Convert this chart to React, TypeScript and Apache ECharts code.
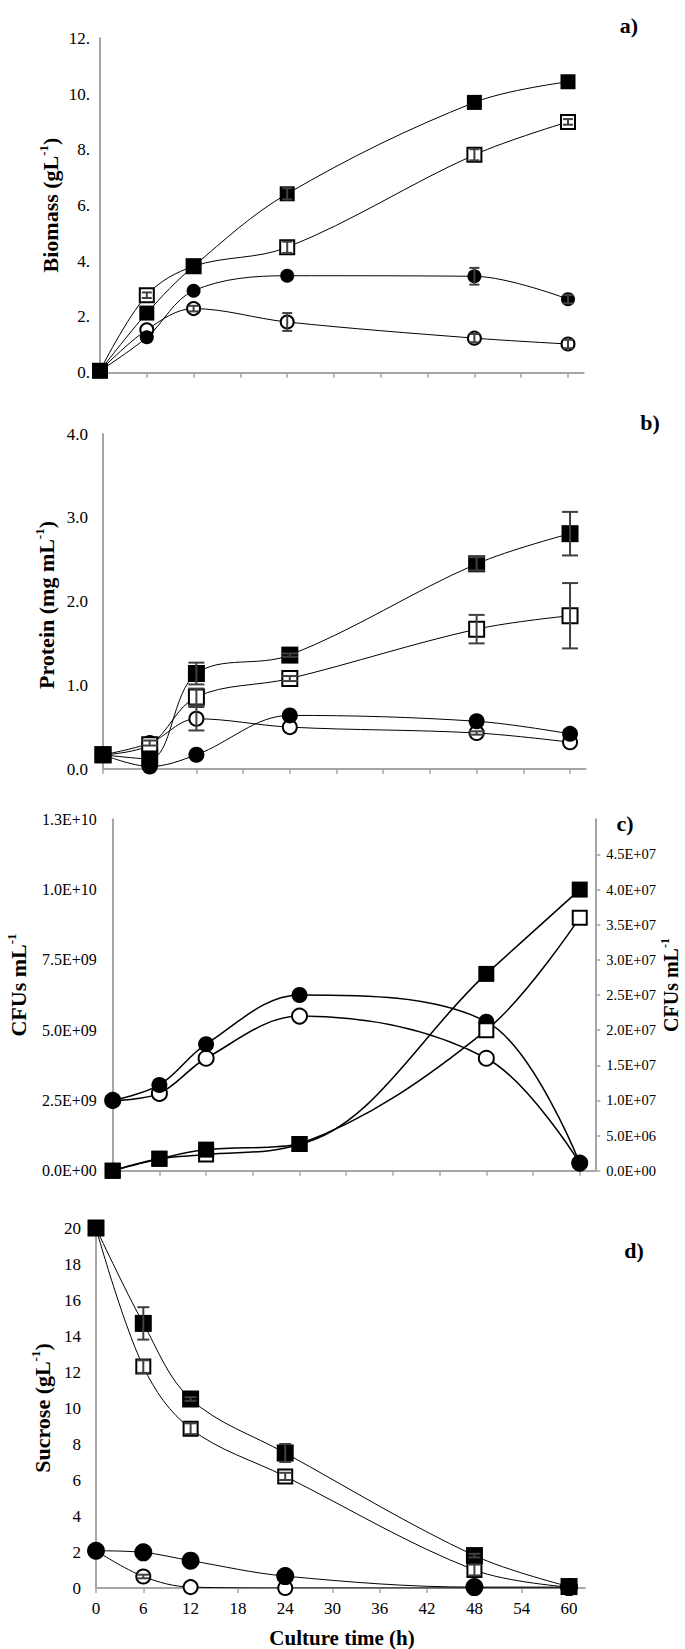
import React, { useEffect, useRef } from "react";
import * as echarts from "echarts";

// ---------- data ----------
const hours = [0, 6, 12, 24, 48, 60];
const tickHours = [0, 6, 12, 18, 24, 30, 36, 42, 48, 54, 60];

// a) Biomass (g/L)
const biomassFilledSq = [0.07, 2.14, 3.82, 6.42, 9.7, 10.44];
const biomassOpenSq = [0.07, 2.78, 3.82, 4.5, 7.82, 9.0];
const biomassFilledCi = [0.07, 1.27, 2.94, 3.48, 3.46, 2.64];
const biomassOpenCi = [0.07, 1.54, 2.3, 1.82, 1.24, 1.03];
const biomassFilledSqErr = [0, 0, 0, 0.2, 0, 0];
const biomassOpenSqErr = [0, 0.1, 0, 0.2, 0.2, 0.1];
const biomassFilledCiErr = [0, 0, 0, 0, 0.3, 0.15];
const biomassOpenCiErr = [0, 0, 0.1, 0.32, 0.15, 0.15];

// b) Protein (mg/mL)
const proteinFilledSq = [0.17, 0.12, 1.14, 1.36, 2.45, 2.81];
const proteinOpenSq = [0.17, 0.29, 0.86, 1.08, 1.67, 1.83];
const proteinFilledCi = [0.17, 0.03, 0.17, 0.64, 0.57, 0.42];
const proteinOpenCi = [0.17, 0.31, 0.6, 0.5, 0.43, 0.32];
const proteinFilledSqErr = [0, 0, 0.13, 0.02, 0.08, 0.26];
const proteinOpenSqErr = [0, 0, 0.1, 0.03, 0.17, 0.39];
const proteinFilledCiErr = [0, 0, 0, 0, 0, 0];
const proteinOpenCiErr = [0, 0.03, 0.14, 0, 0.02, 0];

// c) CFUs/mL  (circles: left axis, squares: right axis)
const cfuFilledCi = [2.5e9, 3.05e9, 4.5e9, 6.25e9, 5.3e9, 0.27e9];
const cfuOpenCi = [2.5e9, 2.75e9, 4.0e9, 5.5e9, 4.0e9, 0.27e9];
const cfuFilledSq = [0, 1.7e6, 3.0e6, 3.8e6, 2.8e7, 4.0e7];
const cfuOpenSq = [0, 1.7e6, 2.3e6, 3.8e6, 2.0e7, 3.6e7];

// d) Sucrose (g/L)
const sucroseFilledSq = [20, 14.7, 10.5, 7.5, 1.8, 0.08];
const sucroseOpenSq = [20, 12.3, 8.85, 6.2, 1.0, 0.05];
const sucroseFilledCi = [2.07, 1.98, 1.52, 0.66, 0.05, 0.05];
const sucroseOpenCi = [2.07, 0.64, 0.05, 0.0, 0.0, 0.0];
const sucroseFilledSqErr = [0, 0.9, 0.1, 0.5, 0.1, 0];
const sucroseOpenSqErr = [0, 0.35, 0.3, 0.2, 0.3, 0];
const sucroseFilledCiErr = [0, 0, 0, 0, 0, 0];
const sucroseOpenCiErr = [0, 0.1, 0, 0, 0, 0];

// ---------- helpers ----------
const FONT = '"Liberation Serif", "Times New Roman", serif';
const AXIS_GRAY = "#a6a6a6";

function expFmt(v: number) {
  const s = Number(v).toExponential(1);
  const [m, e] = s.split("e");
  const sign = e[0] === "-" ? "-" : "+";
  const digits = e.replace(/^[+-]/, "").padStart(2, "0");
  return m + "E" + sign + digits;
}

const pts = (ys: number[]) => hours.map((h, i) => [h, ys[i]]);

type Kind = "fsq" | "osq" | "fci" | "oci";

function lineSeries(
  ys: number[],
  kind: Kind,
  xi: number,
  yi: number,
  size: number,
  lw: number
) {
  const filled = kind === "fsq" || kind === "fci";
  const sym = kind === "fsq" || kind === "osq" ? "rect" : "circle";
  return {
    type: "line",
    xAxisIndex: xi,
    yAxisIndex: yi,
    data: pts(ys),
    smooth: 0.35,
    symbol: sym,
    symbolSize: size,
    showAllSymbol: true,
    silent: true,
    lineStyle: { color: "#000", width: lw },
    itemStyle: {
      color: filled ? "#000" : "#fff",
      borderColor: "#000",
      borderWidth: filled ? 0 : 2,
    },
    emphasis: { disabled: true },
    z: 3,
  };
}

function errSeries(
  ys: number[][],
  errs: number[][],
  xi: number,
  yi: number,
  cap: number
) {
  const data: number[][] = [];
  ys.forEach((arr, k) => {
    hours.forEach((h, i) => {
      if (errs[k][i] > 0) data.push([h, arr[i], errs[k][i]]);
    });
  });
  return {
    type: "custom",
    xAxisIndex: xi,
    yAxisIndex: yi,
    silent: true,
    z: 10,
    encode: { x: 0, y: 1 },
    data,
    renderItem: (params: any, api: any) => {
      const x = api.value(0);
      const y = api.value(1);
      const e = api.value(2);
      const t = api.coord([x, y + e]);
      const b = api.coord([x, y - e]);
      const st = { stroke: "#404040", lineWidth: 2 };
      return {
        type: "group",
        children: [
          { type: "line", shape: { x1: t[0], y1: t[1], x2: b[0], y2: b[1] }, style: st },
          { type: "line", shape: { x1: t[0] - cap, y1: t[1], x2: t[0] + cap, y2: t[1] }, style: st },
          { type: "line", shape: { x1: b[0] - cap, y1: b[1], x2: b[0] + cap, y2: b[1] }, style: st },
        ],
      };
    },
  };
}

function xAxisCfg(gi: number, showLabels: boolean) {
  return {
    type: "value",
    gridIndex: gi,
    min: 0,
    max: 62,
    interval: 6,
    axisLine: { show: true, onZero: false, lineStyle: { color: AXIS_GRAY, width: 2 } },
    axisTick: {
      show: true,
      length: 5,
      customValues: tickHours,
      lineStyle: { color: AXIS_GRAY, width: 1.5 },
    },
    axisLabel: {
      show: showLabels,
      customValues: tickHours,
      fontFamily: FONT,
      fontSize: 17,
      color: "#000",
      margin: 12,
    },
    splitLine: { show: false },
  };
}

function yAxisCfg(
  gi: number,
  max: number,
  interval: number,
  fmt: (v: number) => string,
  margin: number,
  fontSize: number
) {
  return {
    type: "value",
    gridIndex: gi,
    min: 0,
    max,
    interval,
    axisLine: { show: true, onZero: false, lineStyle: { color: AXIS_GRAY, width: 2 } },
    axisTick: { show: false },
    axisLabel: { formatter: fmt, fontFamily: FONT, fontSize, color: "#000", margin },
    splitLine: { show: false },
  };
}

function vName(main: string, tail: string, x: number, y: number, size: number) {
  return {
    type: "text",
    x,
    y,
    rotation: Math.PI / 2,
    silent: true,
    style: {
      text: `{n|${main}}{s|-1}{n|${tail}}`,
      align: "center",
      verticalAlign: "middle",
      fill: "#000",
      rich: {
        n: { fontSize: size, fontWeight: "bold", fontFamily: FONT, fill: "#000", lineHeight: size * 1.2 },
        s: {
          fontSize: Math.round(size * 0.6),
          fontWeight: "bold",
          fontFamily: FONT,
          fill: "#000",
          verticalAlign: "top",
          lineHeight: size * 1.2,
        },
      },
    },
  };
}

function panelLabel(t: string, x: number, y: number) {
  return {
    type: "text",
    x,
    y,
    silent: true,
    style: {
      text: t,
      align: "center",
      verticalAlign: "middle",
      fontFamily: FONT,
      fontWeight: "bold",
      fontSize: 22,
      fill: "#000",
    },
  };
}

export default function App() {
  const ref = useRef<HTMLDivElement>(null);

  useEffect(() => {
    if (!ref.current) return;
    const chart = echarts.init(ref.current, null, { renderer: "svg" });

    const option: any = {
      animation: false,
      backgroundColor: "#fff",
      grid: [
        { left: 100, top: 38.3, width: 483.6, height: 334.4 },
        { left: 103, top: 434, width: 482.6, height: 335 },
        { left: 112.7, top: 819.3, width: 482.6, height: 351.4 },
        { left: 96, top: 1228, width: 488.8, height: 360 },
      ],
      xAxis: [xAxisCfg(0, false), xAxisCfg(1, false), xAxisCfg(2, false), xAxisCfg(3, true)],
      yAxis: [
        yAxisCfg(0, 12, 2, (v) => `${v}.`, 10, 17),
        yAxisCfg(1, 4, 1, (v) => Number(v).toFixed(1), 15, 17),
        yAxisCfg(2, 1.25e10, 2.5e9, expFmt, 16, 16),
        {
          type: "value",
          gridIndex: 2,
          position: "right",
          min: 0,
          max: 5e7,
          interval: 5e6,
          axisLine: { show: true, onZero: false, lineStyle: { color: AXIS_GRAY, width: 2 } },
          axisTick: { show: true, inside: false, length: 5, lineStyle: { color: AXIS_GRAY, width: 1.5 } },
          axisLabel: {
            formatter: expFmt,
            showMaxLabel: false,
            fontFamily: FONT,
            fontSize: 14.5,
            color: "#000",
            margin: 11,
          },
          splitLine: { show: false },
        },
        yAxisCfg(3, 20, 2, (v) => `${v}`, 15, 17),
      ],
      series: [
        // a
        lineSeries(biomassOpenCi, "oci", 0, 0, 13, 1),
        lineSeries(biomassFilledCi, "fci", 0, 0, 14, 1),
        lineSeries(biomassOpenSq, "osq", 0, 0, 14, 1),
        lineSeries(biomassFilledSq, "fsq", 0, 0, 15, 1),
        errSeries(
          [biomassFilledSq, biomassOpenSq, biomassFilledCi, biomassOpenCi],
          [biomassFilledSqErr, biomassOpenSqErr, biomassFilledCiErr, biomassOpenCiErr],
          0, 0, 5
        ),
        // b
        lineSeries(proteinOpenCi, "oci", 1, 1, 14, 1),
        lineSeries(proteinFilledCi, "fci", 1, 1, 16, 1),
        lineSeries(proteinOpenSq, "osq", 1, 1, 15, 1),
        lineSeries(proteinFilledSq, "fsq", 1, 1, 17, 1),
        errSeries(
          [proteinFilledSq, proteinOpenSq, proteinFilledCi, proteinOpenCi],
          [proteinFilledSqErr, proteinOpenSqErr, proteinFilledCiErr, proteinOpenCiErr],
          1, 1, 8
        ),
        // c
        lineSeries(cfuOpenCi, "oci", 2, 2, 15, 1.5),
        lineSeries(cfuFilledCi, "fci", 2, 2, 16, 1.5),
        lineSeries(cfuOpenSq, "osq", 2, 3, 14, 1.5),
        lineSeries(cfuFilledSq, "fsq", 2, 3, 16, 1.5),
        // d
        lineSeries(sucroseOpenCi, "oci", 3, 4, 14, 1),
        lineSeries(sucroseFilledCi, "fci", 3, 4, 18, 1),
        lineSeries(sucroseOpenSq, "osq", 3, 4, 14, 1),
        lineSeries(sucroseFilledSq, "fsq", 3, 4, 17, 1),
        errSeries(
          [sucroseFilledSq, sucroseOpenSq, sucroseFilledCi, sucroseOpenCi],
          [sucroseFilledSqErr, sucroseOpenSqErr, sucroseFilledCiErr, sucroseOpenCiErr],
          3, 4, 6
        ),
      ],
      graphic: [
        panelLabel("a)", 629, 25),
        panelLabel("b)", 650, 422),
        panelLabel("c)", 625, 823),
        panelLabel("d)", 634, 1250),
        vName("Biomass (gL", ")", 50, 205, 22),
        vName("Protein (mg mL", ")", 46, 605, 22),
        vName("CFUs mL", "", 18, 985, 22),
        vName("CFUs mL", "", 671, 985, 20),
        vName("Sucrose (gL", ")", 42, 1408, 22),
        {
          type: "text",
          x: 342,
          y: 1638,
          silent: true,
          style: {
            text: "Culture time (h)",
            align: "center",
            verticalAlign: "middle",
            fontFamily: FONT,
            fontWeight: "bold",
            fontSize: 21,
            fill: "#000",
          },
        },
      ],
    };

    chart.setOption(option);
    return () => chart.dispose();
  }, []);

  return (
    <div
      ref={ref}
      style={{ position: "absolute", left: 0, top: 0, width: 685, height: 1649, background: "#fff" }}
    />
  );
}
